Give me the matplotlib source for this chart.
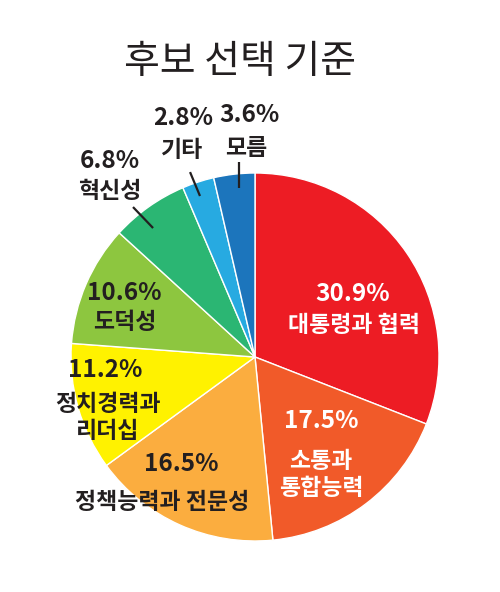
import matplotlib
matplotlib.use("Agg")
import matplotlib.pyplot as plt

plt.rcParams['font.family'] = ['Noto Sans CJK KR', 'DejaVu Sans']

# data
names = ['대통령과 협력', '소통과\n통합능력', '정책능력과 전문성', '정치경력과\n리더십',
         '도덕성', '혁신성', '기타', '모름']
values = [30.9, 17.5, 16.5, 11.2, 10.6, 6.8, 2.8, 3.6]
colors = ['#ED1C24', '#F15A29', '#FBAD3F', '#FFF200',
          '#8DC63F', '#2BB673', '#27AAE1', '#1C75BC']
text_colors = ['white', 'white', '#231F20', '#231F20',
               '#231F20', '#231F20', '#231F20', '#231F20']

# label layout, in units of pie radius (pct position, name position)
pct_xy = [(0.53, 0.34), (0.36, -0.35), (-0.40, -0.58), (-0.815, -0.07),
          (-0.71, 0.35), (-0.79, 1.065), (-0.39, 1.30), (-0.03, 1.315)]
name_xy = [(0.54, 0.17), (0.36, -0.64), (-0.505, -0.79), (-0.80, -0.33),
           (-0.71, 0.185), (-0.79, 0.90), (-0.40, 1.12), (-0.05, 1.135)]
# leader lines for the small outside labels
leaders = {5: ((-0.663, 0.815), (-0.554, 0.701)),
           6: ((-0.353, 1.005), (-0.299, 0.875)),
           7: ((-0.087, 1.060), (-0.087, 0.918))}

fig = plt.figure(figsize=(5.0, 5.92), dpi=100)
cx, cy, r = 255, 357, 184
ax = fig.add_axes([(cx - r) / 500, (592 - cy - r) / 592, 2 * r / 500, 2 * r / 592])

wedges, _ = ax.pie(values, colors=colors, startangle=90, counterclock=False,
                   radius=1.0, wedgeprops=dict(edgecolor='white', linewidth=1.0))
for w in wedges:
    w.set_clip_on(False)
ax.set_xlim(-1, 1)
ax.set_ylim(-1, 1)
ax.set_aspect('equal')
ax.axis('off')

for i, (v, nm) in enumerate(zip(values, names)):
    ax.text(*pct_xy[i], f'{v}%', ha='center', va='center', fontsize=17.5,
            fontweight='heavy', color=text_colors[i], clip_on=False)
    ax.text(*name_xy[i], nm, ha='center', va='center', fontsize=16.5,
            fontweight='heavy', color=text_colors[i], linespacing=1.2,
            clip_on=False)

for i, (p0, p1) in leaders.items():
    ax.plot([p0[0], p1[0]], [p0[1], p1[1]], color='#231F20', lw=1.6,
            clip_on=False, solid_capstyle='butt')

fig.text(240 / 500, 1 - 62 / 592, '후보 선택 기준', ha='center', va='center',
         fontsize=28, color='#231F20')

fig.savefig('out.png', dpi=100, facecolor='white')
